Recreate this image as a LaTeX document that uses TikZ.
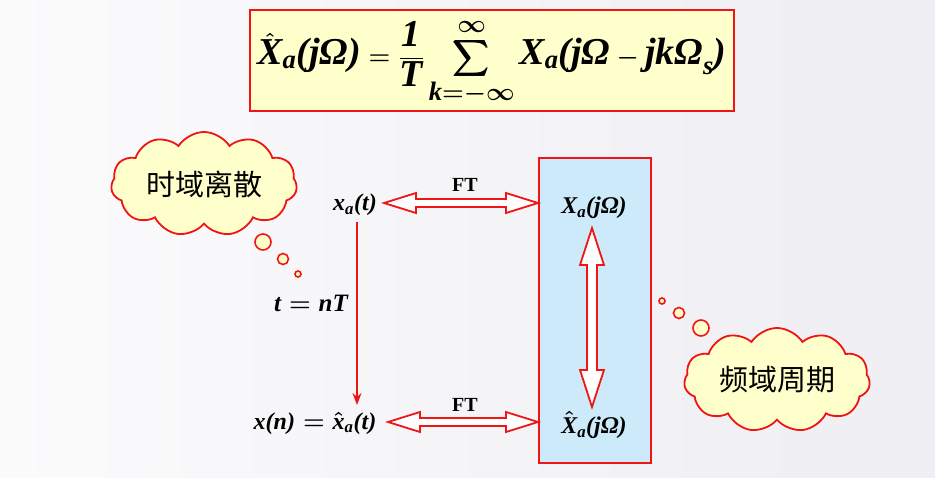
\documentclass[tikz,border=0pt]{standalone}
\usepackage{fontspec}
\usepackage{amsmath}
\setmainfont{Liberation Serif}
\newfontfamily\cjk{Noto Sans CJK SC}
\usetikzlibrary{calc,shapes.symbols,arrows.meta}
\definecolor{myred}{RGB}{240,20,20}
\definecolor{lyellow}{RGB}{255,255,204}
\definecolor{lblue}{RGB}{204,234,250}
\definecolor{bgA}{RGB}{251,251,252}
\definecolor{bgC}{RGB}{238,238,243}
\newcommand\bi[1]{\text{\bfseries\itshape #1}}
\newcommand\bsum{\mathop{\pmb{\displaystyle\sum}}\limits}
\newcommand\fmlA{$\hat{\bi{X}}_{\bi{a}}\bi{(jΩ)} = \dfrac{\bi{1}}{\bi{T}}\bsum_{\bi{k}=-\infty}^{\infty}\bi{X}_{\bi{a}}\bi{(jΩ} - \bi{jkΩ}_{\bi{s}}\bi{)}$}
\newcommand\lxa{$\bi{x}_{\bi{a}}\bi{(t)}$}
\newcommand\lXa{$\bi{X}_{\bi{a}}\bi{(jΩ)}$}
\newcommand\lxn{$\bi{x(n)} = \hat{\bi{x}}_{\bi{a}}\bi{(t)}$}
\newcommand\lXh{$\hat{\bi{X}}_{\bi{a}}\bi{(jΩ)}$}
\newcommand\ltn{$\bi{t} = \bi{nT}$}
\tikzset{
  hollow/.style={draw=myred, fill=white, line width=1.8pt, line join=miter},
  mathlbl/.style={font=\fontsize{24}{28}\selectfont\boldmath, inner sep=1pt},
  ftlbl/.style={font=\fontsize{20}{22}\selectfont\bfseries, inner sep=1pt},
  thought/.style={cloud, cloud puffs=11, cloud puff arc=115, aspect=2,
    draw=myred, fill=lyellow, line width=1.8pt, inner sep=0pt,
    font=\cjk\fontsize{29}{32}\selectfont},
  bubble/.style={draw=myred, fill=lyellow, line width=1.6pt},
}
\newcommand\hollowh[2]{\draw[hollow] (#1) -- ($(#1)+(32,10)$) -- ($(#1)+(32,4)$) -- ($(#2)+(-32,4)$) -- ($(#2)+(-32,10)$) -- (#2) -- ($(#2)+(-32,-10)$) -- ($(#2)+(-32,-4)$) -- ($(#1)+(32,-4)$) -- ($(#1)+(32,-10)$) -- cycle;}
\newcommand\hollowv[2]{\draw[hollow] (#1) -- ($(#1)+(12,37)$) -- ($(#1)+(5,37)$) -- ($(#2)+(5,-37)$) -- ($(#2)+(12,-37)$) -- (#2) -- ($(#2)+(-12,-37)$) -- ($(#2)+(-5,-37)$) -- ($(#1)+(-5,37)$) -- ($(#1)+(-12,37)$) -- cycle;}
\begin{document}
\begin{tikzpicture}[x=1pt,y=-1pt]
\useasboundingbox (0,0) rectangle (935,477);
\shade[left color=bgA, right color=bgC] (0,0) rectangle (935,477);
\node[draw=myred, fill=lyellow, line width=2pt, minimum width=484pt, minimum height=101pt, inner sep=0pt] (fbox) at (492,60.5) {};
\node[font=\fontsize{38}{44}\selectfont\boldmath, inner sep=0pt] (formula) at (492,63) {\fmlA};
\node[draw=myred, fill=lblue, line width=2pt, minimum width=112pt, minimum height=305pt, inner sep=0pt] (band) at (595,310.5) {};
\node[mathlbl] (xa) at (355,205) {\lxa};
\node[mathlbl] (Xa) at (594,208) {\lXa};
\node[mathlbl] (xn) at (315,423) {\lxn};
\node[mathlbl] (Xh) at (594,425) {\lXh};
\node[mathlbl, font=\fontsize{25}{28}\selectfont\boldmath] (tn) at (311,303) {\ltn};
\node[ftlbl] (ft1) at (465,185) {FT};
\node[ftlbl] (ft2) at (465,405) {FT};
\coordinate (h1a) at (384,203);
\coordinate (h1b) at (band.west |- h1a);
\hollowh{h1a}{h1b}
\coordinate (h2a) at (388,422);
\coordinate (h2b) at (band.west |- h2a);
\hollowh{h2a}{h2b}
\coordinate (vt) at (592,228);
\coordinate (vb) at (592,407);
\hollowv{vt}{vb}
\coordinate (sampA) at (357,222);
\coordinate (sampB) at (357,405);
\draw[myred, line width=1.5pt, -{Stealth[length=12pt,width=9pt]}] (sampA) -- (sampB);
\node[thought, minimum width=186pt, minimum height=92pt] (c1) at (204,184) {时域离散};
\draw[bubble] (263,242) circle (8);
\draw[bubble] (283,259) circle (5.5);
\draw[bubble] (298,274) circle (3);
\node[thought, minimum width=186pt, minimum height=96pt] (c2) at (777,380) {频域周期};
\draw[bubble] (662,301) circle (3);
\draw[bubble] (679,313) circle (5.5);
\draw[bubble] (701,328) circle (8);
\end{tikzpicture}
\end{document}
